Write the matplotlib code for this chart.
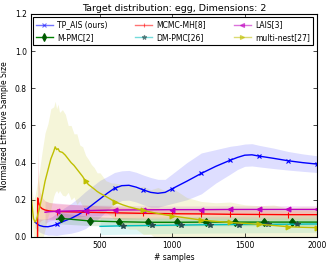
import numpy as np
import matplotlib
matplotlib.use("Agg")
import matplotlib.pyplot as plt
from matplotlib.lines import Line2D

# ---------------- data ----------------
tp_x = [50, 80, 110, 140, 170, 200, 250, 300, 350, 400, 450, 500, 550, 600, 650, 700, 750, 800,
        850, 900, 950, 1000, 1100, 1200, 1300, 1400, 1450, 1500, 1550, 1600, 1700, 1800, 1900, 2000]
tp_y = [0.080, 0.062, 0.056, 0.055, 0.060, 0.068, 0.085, 0.100, 0.120, 0.145, 0.175, 0.205, 0.235,
        0.262, 0.276, 0.278, 0.268, 0.253, 0.240, 0.235, 0.240, 0.260, 0.300, 0.342, 0.380, 0.413,
        0.428, 0.440, 0.442, 0.435, 0.423, 0.410, 0.400, 0.392]
tp_s = [0.030, 0.035, 0.040, 0.045, 0.050, 0.060, 0.070, 0.080, 0.090, 0.100, 0.100, 0.100, 0.090,
        0.085, 0.080, 0.080, 0.080, 0.080, 0.080, 0.075, 0.070, 0.080, 0.100, 0.110, 0.090, 0.075,
        0.065, 0.060, 0.060, 0.058, 0.055, 0.050, 0.047, 0.045]

mh_x = [68, 69, 75, 85, 100, 120, 150, 200, 400, 600, 800, 1000, 1200, 1400, 1600, 1800, 2000]
mh_y = [0.0, 0.210, 0.185, 0.163, 0.152, 0.145, 0.140, 0.137, 0.133, 0.130, 0.127, 0.125, 0.124,
        0.122, 0.121, 0.120, 0.120]
mh_s = [0.0, 0.270, 0.120, 0.080, 0.060, 0.050, 0.045, 0.042, 0.038, 0.033, 0.030, 0.027, 0.025,
        0.024, 0.023, 0.022, 0.022]

lais_x = [120, 150, 200, 300, 400, 600, 800, 1000, 1200, 1400, 1600, 1800, 2000]
lais_y = [0.133, 0.136, 0.138, 0.140, 0.142, 0.145, 0.146, 0.147, 0.147, 0.148, 0.148, 0.148, 0.148]
lais_s = [0.060, 0.050, 0.045, 0.035, 0.030, 0.025, 0.022, 0.020, 0.020, 0.020, 0.020, 0.020, 0.020]

mpmc_x = [200, 230, 430, 630, 830, 1030, 1230, 1430, 1630, 1830, 2000]
mpmc_y = [0.095, 0.100, 0.086, 0.082, 0.079, 0.079, 0.080, 0.080, 0.080, 0.080, 0.080]
mpmc_s = [0.035, 0.030, 0.025, 0.022, 0.020, 0.020, 0.020, 0.020, 0.020, 0.020, 0.020]

dm_x = [500, 660, 860, 1060, 1260, 1460, 1660, 1860, 2000]
dm_y = [0.057, 0.060, 0.062, 0.064, 0.066, 0.067, 0.068, 0.069, 0.070]
dm_s = [0.045, 0.045, 0.045, 0.045, 0.045, 0.045, 0.045, 0.045, 0.045]

mn_x = [20, 30, 40, 50, 60, 80, 100, 120, 140, 160, 180, 190, 200, 210, 220, 240, 260, 280, 300,
        320, 340, 360, 380, 400, 420, 440, 460, 480, 500, 540, 580, 600, 660, 700, 750, 800, 850,
        900, 950, 1000, 1100, 1200, 1300, 1400, 1500, 1600, 1700, 1800, 1900, 2000]
mn_y = [0.250, 0.170, 0.100, 0.080, 0.090, 0.150, 0.220, 0.300, 0.360, 0.420, 0.460, 0.485, 0.470,
        0.475, 0.460, 0.455, 0.440, 0.420, 0.400, 0.385, 0.365, 0.345, 0.325, 0.300, 0.282, 0.270,
        0.258, 0.245, 0.235, 0.218, 0.200, 0.190, 0.172, 0.162, 0.152, 0.143, 0.134, 0.126, 0.119,
        0.113, 0.102, 0.091, 0.084, 0.078, 0.073, 0.068, 0.062, 0.055, 0.052, 0.050]
mn_s = [0.090, 0.080, 0.100, 0.140, 0.170, 0.200, 0.240, 0.260, 0.250, 0.270, 0.240, 0.245, 0.220,
        0.240, 0.210, 0.230, 0.220, 0.180, 0.200, 0.170, 0.190, 0.150, 0.160, 0.140, 0.135, 0.120,
        0.115, 0.100, 0.110, 0.085, 0.090, 0.100, 0.110, 0.120, 0.110, 0.130, 0.120, 0.140, 0.130,
        0.150, 0.110, 0.100, 0.100, 0.110, 0.100, 0.100, 0.110, 0.100, 0.110, 0.110]

labels = ["TP_AIS (ours)", "M-PMC[2]", "MCMC-MH[8]", "DM-PMC[26]", "LAIS[3]", "multi-nest[27]"]
title = "Target distribution: egg, Dimensions: 2"
xlabel = "# samples"
ylabel = "Normalized Effective Sample Size"

# ---------------- style ----------------
plt.rcParams.update({
    "font.family": "DejaVu Sans",
    "xtick.direction": "in", "ytick.direction": "in",
    "xtick.top": True, "ytick.right": True,
    "xtick.major.size": 3, "ytick.major.size": 3,
    "xtick.major.width": 0.5, "ytick.major.width": 0.5,
    "axes.linewidth": 0.8,
    "xtick.labelsize": 5.5, "ytick.labelsize": 5.5,
})

C_B = (0, 0, 1)
C_R = (1, 0, 0)
C_M = (0.75, 0, 0.75)
C_G = (0, 0.5, 0)
C_C = (0, 0.75, 0.75)
C_Y = (0.75, 0.75, 0)


def midx(xs, start, step):
    return [i for i, v in enumerate(xs) if v >= start and (v - start) % step == 0]


fig = plt.figure(figsize=(3.32, 2.63), dpi=100)
ax = fig.add_axes([0.093, 0.099, 0.862, 0.848])

series = [
    (tp_x, tp_y, tp_s, C_B, "x", 3.5, 200, C_B),
    (mpmc_x, mpmc_y, mpmc_s, C_G, "d", 4.5, 230, (0, 0.35, 0)),
    (mh_x, mh_y, mh_s, C_R, "|", 4, 200, C_R),
    (dm_x, dm_y, dm_s, C_C, "*", 4, 660, (0.15, 0.3, 0.3)),
    (lais_x, lais_y, lais_s, C_M, "<", 3.5, 200, C_M),
    (mn_x, mn_y, mn_s, C_Y, ">", 3.5, 400, C_Y),
]

fill_alpha = [0.13, 0.13, 0.14, 0.13, 0.13, 0.15]
for (xs, ys, ss, col, mk, ms, mstart, mcol), fa in zip(series, fill_alpha):
    xs_a = np.array(xs, float)
    ys_a = np.array(ys, float)
    ss_a = np.array(ss, float)
    ax.fill_between(xs_a, ys_a - ss_a, ys_a + ss_a, color=col, alpha=fa, lw=0)

handles = []
for (xs, ys, ss, col, mk, ms, mstart, mcol), lab in zip(series, labels):
    ax.plot(xs, ys, color=col, lw=1.0, marker=mk, ms=ms, mfc=mcol, mec=mcol, mew=0.8,
            markevery=midx(xs, mstart, 200))
    handles.append(Line2D([], [], color=col, lw=1.0, alpha=0.55 if col not in (C_G,) else 1.0,
                          marker=mk, ms=ms * 0.85, mfc=mcol, mec=mcol, mew=0.8, label=lab))

ax.set_xlim(22, 2000)
ax.set_ylim(0, 1.2)
ax.set_xticks([500, 1000, 1500, 2000])
ax.set_yticks([0.0, 0.2, 0.4, 0.6, 0.8, 1.0, 1.2])
ax.set_title(title, fontsize=6.8, pad=2)
ax.set_xlabel(xlabel, fontsize=5.5, labelpad=2)
ax.set_ylabel(ylabel, fontsize=5.5, labelpad=4)
ax.tick_params(pad=3)

leg = ax.legend(handles=handles, ncol=3, loc="upper left", mode="expand",
                bbox_to_anchor=(0.007, 0.0, 0.979, 0.985), borderaxespad=0,
                fontsize=5.5, numpoints=1, fancybox=False, framealpha=1,
                handlelength=2.2, handletextpad=0.6, labelspacing=0.5, borderpad=0.4)
leg.get_frame().set_edgecolor("black")
leg.get_frame().set_linewidth(0.8)

fig.savefig("out.png", dpi=100)
